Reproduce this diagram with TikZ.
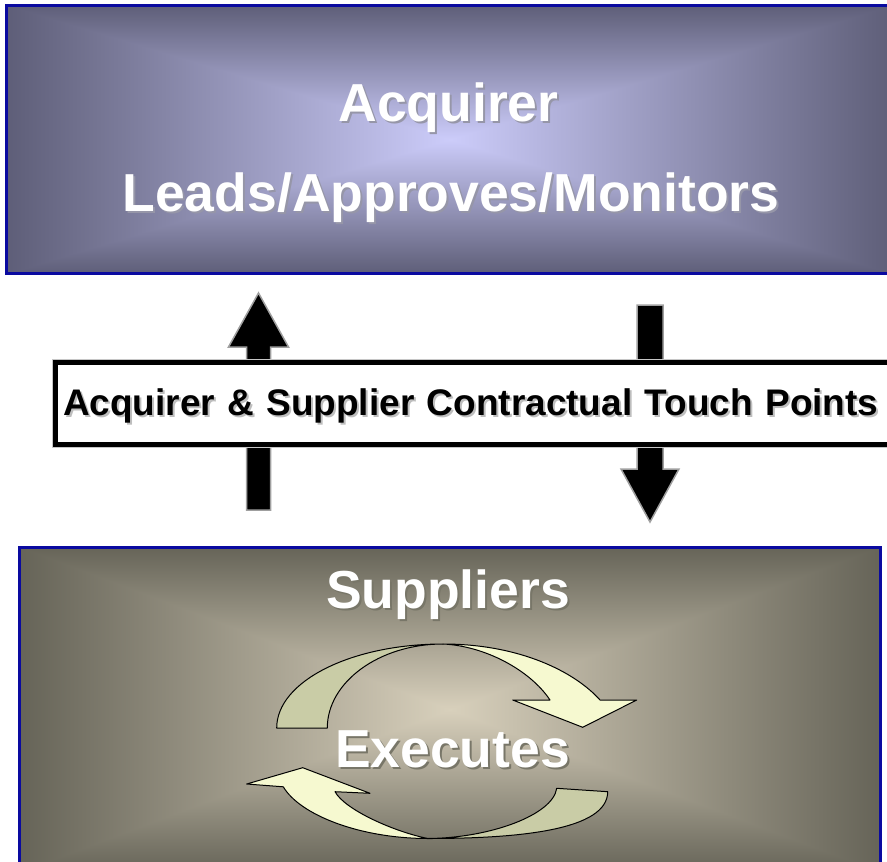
\documentclass[tikz,border=0pt]{standalone}
\usepackage{fontspec}
\setmainfont{Liberation Sans}

\definecolor{frameblue}{RGB}{10,10,160}
\definecolor{acqshadow}{RGB}{150,150,168}
\definecolor{supshadow}{RGB}{120,118,104}
\definecolor{touchshadow}{RGB}{190,190,190}
\definecolor{olivedark}{RGB}{201,204,166}
\definecolor{palecream}{RGB}{246,249,208}

% rectangular glow: light in the middle, dark towards the frame
\pgfdeclarefunctionalshading{acquirerglow}{\pgfpoint{-50bp}{-50bp}}{\pgfpoint{50bp}{50bp}}{}{
  abs exch abs 2 copy lt {exch} if pop 25 div dup 1 gt {pop 1} if
  dup -0.431 mul 0.8 add exch
  dup -0.431 mul 0.8 add exch
  -0.509 mul 0.98 add
}
\pgfdeclarefunctionalshading{supplierglow}{\pgfpoint{-50bp}{-50bp}}{\pgfpoint{50bp}{50bp}}{}{
  abs exch abs 2 copy lt {exch} if pop 25 div dup 1 gt {pop 1} if
  dup -0.447 mul 0.847 add exch
  dup -0.424 mul 0.816 add exch
  -0.392 mul 0.737 add
}

% white (or black) text with a soft grey copy behind it
\newcommand{\shadowed}[2]{\rlap{\hspace{2pt}\raisebox{-2pt}{\textcolor{#1}{#2}}}#2}

\begin{document}
\begin{tikzpicture}[x=1pt, y=-1pt,
  panel/.style={draw=frameblue, line width=3pt, inner sep=0pt, shading angle=0},
  title/.style={text=white, font=\bfseries\fontsize{53.5}{60}\selectfont, anchor=base, inner sep=0pt},
  blockarrow/.style={fill=black, draw=gray!75, line width=1.5pt},
  banner/.style={draw=black, fill=white, line width=5pt, anchor=west,
    preaction={draw=gray!45, line width=7pt},
    minimum height=82pt, text width=830pt, align=left, inner xsep=8pt,
    text height=30pt, text depth=7pt,
    font=\bfseries\fontsize{37}{44}\selectfont},
  cycleback/.style={fill=olivedark, draw=black, line width=1pt, line join=round},
  cyclefront/.style={fill=palecream, draw=black, line width=1pt, line join=round}]

\useasboundingbox (0,0) rectangle (887,862);
\clip (0,0) rectangle (887,862);

% the two parties
\node [panel, shading=acquirerglow, minimum width=887pt, minimum height=268.4pt]
  (acquirer) at (450,139.5) {};
\node [panel, shading=supplierglow, minimum width=860.8pt, minimum height=325pt]
  (suppliers) at (450.1,709.5) {};

\node [title] (acquirer-name) at (448.5,121) {\shadowed{acqshadow}{Acquirer}};
\node [title] (acquirer-role) at (451,211) {\shadowed{acqshadow}{Leads/Approves/Monitors}};
\node [title] (suppliers-name) at (448,608) {\shadowed{supshadow}{Suppliers}};

% block arrows through the contract band
\coordinate (up-foot) at (258.5,510);
\coordinate (down-top) at (650,305);

\draw [blockarrow] (up-foot) -- ++(-12,0) -- ++(0,-163) -- ++(-18,0) -- ++(30,-54)
  -- ++(30,54) -- ++(-18,0) -- ++(0,163) -- cycle;
\draw [blockarrow] (down-top) -- ++(-13,0) -- ++(0,164) -- ++(-16,0) -- ++(29,53)
  -- ++(29,-53) -- ++(-16,0) -- ++(0,-164) -- cycle;

\node [banner] (touch) at (52.5,403.5)
  {\shadowed{touchshadow}{Acquirer \& Supplier Contractual Touch Points}};

% circular arrows, upper half
\draw [cycleback] (276.7,728) .. controls (276.7,681.3) and (351.3,644) .. (443,644)
  .. controls (379.1,644) and (327.3,682.2) .. (327.3,728) -- cycle;
\draw [cyclefront] (443,644) .. controls (520,644) and (575,672) .. (600,700)
  -- (636.7,700) -- (582.7,727.3) -- (512.7,700) -- (550,700)
  .. controls (530,670) and (485,646) .. (443,644) -- cycle;

% circular arrows, lower half
\draw [cycleback] (607.7,791.7) .. controls (607.7,830) and (520,838.5) .. (428,838.5)
  .. controls (490,838) and (553,815) .. (556.7,788.3) -- cycle;
\draw [cyclefront] (428,838.5) .. controls (360,838.5) and (300,815) .. (283.3,786.8)
  -- (246.7,784) -- (302.7,767.7) -- (370,793.3) -- (335,791.7)
  .. controls (345,810) and (395,832) .. (428,838.5) -- cycle;

\node [title] (suppliers-role) at (452.5,767) {\shadowed{supshadow}{Executes}};

\end{tikzpicture}
\end{document}
